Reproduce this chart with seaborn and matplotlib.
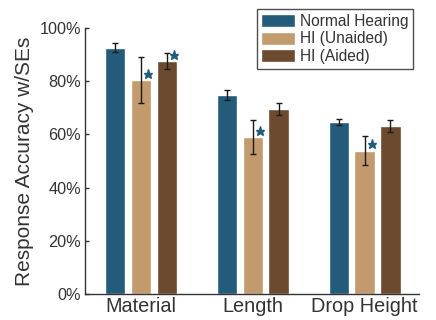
import numpy as np
import pandas as pd
import matplotlib
matplotlib.use("Agg")
import matplotlib.pyplot as plt
import seaborn as sns
from matplotlib.ticker import PercentFormatter

tasks = ["Material", "Length", "Drop Height"]
groups = ["Normal Hearing", "HI (Unaided)", "HI (Aided)"]
nh = [92.6, 74.8, 64.6]
hi_unaided = [80.4, 59.0, 53.8]
hi_aided = [87.5, 69.5, 63.1]
nh_se = [1.6, 1.9, 1.1]
unaided_se = [8.5, 6.2, 5.4]
aided_se = [3.1, 2.1, 2.1]
# significance stars: (task index, group index)
stars = [(0, 1), (0, 2), (1, 1), (2, 1)]

colors = ["#235b7b", "#c39a6d", "#6b4a2f"]

df = pd.DataFrame({
    "task": tasks * 3,
    "group": [g for g in groups for _ in tasks],
    "acc": nh + hi_unaided + hi_aided,
    "se": nh_se + unaided_se + aided_se,
})

sns.set_style("white")
plt.rcParams["font.family"] = ["Liberation Sans", "DejaVu Sans"]
text_col = "#333333"

fig, ax = plt.subplots(figsize=(4.36, 3.2), dpi=100)
sns.barplot(data=df, x="task", y="acc", hue="group", palette=colors,
            width=0.69, gap=0.21, errorbar=None, saturation=1, ax=ax)

# error bars and stars from the drawn bar positions
bar_conts = list(ax.containers)
for gi, cont in enumerate(bar_conts):
    for ti, bar in enumerate(cont.patches):
        cx = bar.get_x() + bar.get_width() / 2
        sub = df[(df.group == groups[gi]) & (df.task == tasks[ti])].iloc[0]
        ax.errorbar(cx, sub.acc, yerr=sub.se, fmt="none", ecolor="#1a1a1a",
                    elinewidth=1, capsize=2, capthick=1)
        if (ti, gi) in stars:
            ax.plot(cx + 0.35 * bar.get_width(), sub.acc + 2.4, marker="*",
                    color=colors[0], markersize=6.5, linestyle="none")

ax.set_ylim(0, 100)
ax.set_xlim(-0.5, 2.49)
ax.set_yticks([0, 20, 40, 60, 80, 100])
ax.yaxis.set_major_formatter(PercentFormatter(decimals=0))
ax.set_xlabel("")
ax.set_ylabel("Response Accuracy w/SEs", fontsize=15, color=text_col,
              labelpad=4)
ax.tick_params(axis="y", direction="in", length=3, width=1, labelsize=11.7,
               colors=text_col, left=True, pad=3)
ax.tick_params(axis="x", length=0, labelsize=14.3, colors=text_col, pad=2)
sns.despine(ax=ax)
for s in ["left", "bottom"]:
    ax.spines[s].set_color("#333333")
    ax.spines[s].set_linewidth(1)

leg = ax.legend(loc="upper right", bbox_to_anchor=(0.948, 0.972),
                bbox_transform=fig.transFigure, fontsize=11.2, frameon=True,
                fancybox=False, edgecolor="#222222", handlelength=2.2,
                handleheight=0.9, borderpad=0.3, labelspacing=0.18,
                handletextpad=0.3, borderaxespad=0)
leg.get_frame().set_linewidth(1)
for t in leg.get_texts():
    t.set_color(text_col)

fig.subplots_adjust(left=0.195, right=0.962, top=0.913, bottom=0.081)
fig.savefig("out.png", dpi=100)
